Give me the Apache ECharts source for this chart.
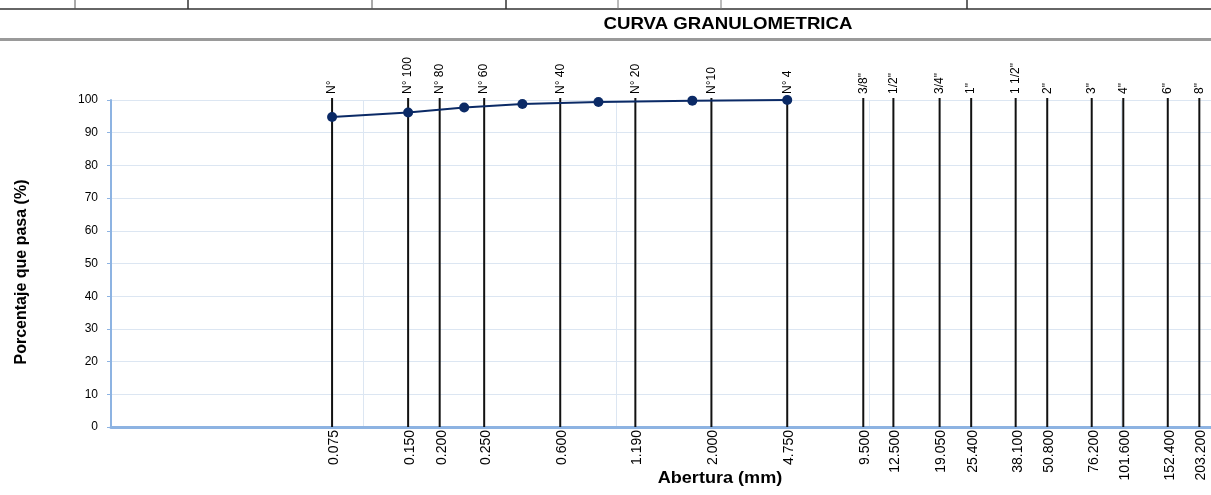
<!DOCTYPE html>
<html>
<head>
<meta charset="utf-8">
<script src="https://cdn.jsdelivr.net/npm/echarts@6/dist/echarts.min.js"></script>
<style>
html,body{margin:0;padding:0;background:#fff;}
#chart{width:1211px;height:495px;}
</style>
</head>
<body>
<div id="chart"></div>
<script>
// Sieve reference lines (positions as drawn on the log axis)
const sievePositions = [0.075, 0.15, 0.2, 0.3, 0.6, 1.19, 2.38, 4.75, 9.5, 12.5, 19.05, 25.4, 38.1, 50.8, 76.2, 101.6, 152.4, 203.2];
const sieveNames = ['N°', 'N° 100', 'N° 80', 'N° 60', 'N° 40', 'N° 20', 'N°10', 'N° 4', '3/8"', '1/2"', '3/4"', '1"', '1 1/2"', '2"', '3"', '4"', '6"', '8"'];
const sieveLabels = ['0.075', '0.150', '0.200', '0.250', '0.600', '1.190', '2.000', '4.750', '9.500', '12.500', '19.050', '25.400', '38.100', '50.800', '76.200', '101.600', '152.400', '203.200'];
// Grading curve
const openings = [0.075, 0.15, 0.25, 0.425, 0.85, 2.0, 4.75];
const passing = [94.8, 96.2, 97.7, 98.8, 99.4, 99.8, 100];
const yTicks = [0, 10, 20, 30, 40, 50, 60, 70, 80, 90, 100];

const FONT = '"Liberation Sans", Arial, sans-serif';
const chart = echarts.init(document.getElementById('chart'), null, {renderer: 'canvas'});

const sieveData = sievePositions.map((v, i) => [v, i]);
const curveData = openings.map((v, i) => [v, passing[i]]);

const option = {
  animation: false,
  backgroundColor: '#fff',
  grid: {left: 111, right: 0, top: 100, bottom: 68, containLabel: false},
  xAxis: {
    type: 'log', logBase: 10, min: 0.01, max: 226,
    axisLine: {show: true, lineStyle: {color: '#8db3e2', width: 3}},
    axisTick: {show: false},
    axisLabel: {show: false},
    splitLine: {show: true, lineStyle: {color: '#dce6f2', width: 1}},
    minorSplitLine: {show: false}
  },
  yAxis: {
    type: 'value', min: yTicks[0], max: yTicks[yTicks.length - 1], interval: 10,
    axisLine: {show: true, lineStyle: {color: '#8db3e2', width: 2}},
    axisTick: {show: true, length: 4, lineStyle: {color: '#8db3e2'}},
    axisLabel: {color: '#000', fontFamily: FONT, fontSize: 12, margin: 13},
    splitLine: {show: true, lineStyle: {color: '#dce6f2', width: 1}}
  },
  series: [
    {
      type: 'custom',
      clip: false,
      z: 2,
      data: sieveData,
      renderItem: function (params, api) {
        const x = api.value(0);
        const i = api.value(1);
        const top = api.coord([x, 100]);
        const bot = api.coord([x, 0]);
        return {
          type: 'group',
          children: [
            {type: 'line', shape: {x1: top[0], y1: top[1] - 2, x2: bot[0], y2: bot[1]},
             style: {stroke: '#111', lineWidth: 2}},
            {type: 'text', x: top[0], y: top[1] - 6, rotation: Math.PI / 2,
             style: {text: sieveNames[i], align: 'left', verticalAlign: 'middle', font: '12px ' + FONT, fill: '#000'}},
            {type: 'text', x: bot[0] + 2, y: bot[1] + 3, rotation: Math.PI / 2,
             style: {text: sieveLabels[i], align: 'right', verticalAlign: 'middle', font: '14px ' + FONT, fill: '#000'}}
          ]
        };
      }
    },
    {
      type: 'line',
      z: 5,
      data: curveData,
      symbol: 'circle',
      symbolSize: 10,
      lineStyle: {color: '#0b2a66', width: 2},
      itemStyle: {color: '#0b2a66'}
    }
  ],
  graphic: [
    {type: 'line', shape: {x1: 0, y1: 9, x2: 1211, y2: 9}, style: {stroke: '#666', lineWidth: 2}},
    {type: 'line', shape: {x1: 75, y1: 0, x2: 75, y2: 9}, style: {stroke: '#555', lineWidth: 1}},
    {type: 'line', shape: {x1: 188, y1: 0, x2: 188, y2: 9}, style: {stroke: '#333', lineWidth: 1.5}},
    {type: 'line', shape: {x1: 372, y1: 0, x2: 372, y2: 9}, style: {stroke: '#555', lineWidth: 1}},
    {type: 'line', shape: {x1: 506, y1: 0, x2: 506, y2: 9}, style: {stroke: '#333', lineWidth: 1.5}},
    {type: 'line', shape: {x1: 618, y1: 0, x2: 618, y2: 9}, style: {stroke: '#777', lineWidth: 1}},
    {type: 'line', shape: {x1: 721, y1: 0, x2: 721, y2: 9}, style: {stroke: '#777', lineWidth: 1}},
    {type: 'line', shape: {x1: 967, y1: 0, x2: 967, y2: 9}, style: {stroke: '#333', lineWidth: 1.5}},
    {type: 'line', shape: {x1: 0, y1: 39.5, x2: 1211, y2: 39.5}, style: {stroke: '#9a9a9a', lineWidth: 3}},
    {type: 'text', x: 728, y: 24, scaleX: 1.13,
     style: {text: 'CURVA GRANULOMETRICA', font: 'bold 16.5px ' + FONT, fill: '#000', align: 'center', verticalAlign: 'middle'}},
    {type: 'text', x: 720, y: 479, scaleX: 1.13,
     style: {text: 'Abertura (mm)', font: 'bold 16px ' + FONT, fill: '#000', align: 'center', verticalAlign: 'middle'}},
    {type: 'text', x: 22, y: 272, rotation: Math.PI / 2,
     style: {text: 'Porcentaje que pasa (%)', font: 'bold 16px ' + FONT, fill: '#000', align: 'center', verticalAlign: 'middle'}}
  ]
};
chart.setOption(option);
</script>
</body>
</html>
